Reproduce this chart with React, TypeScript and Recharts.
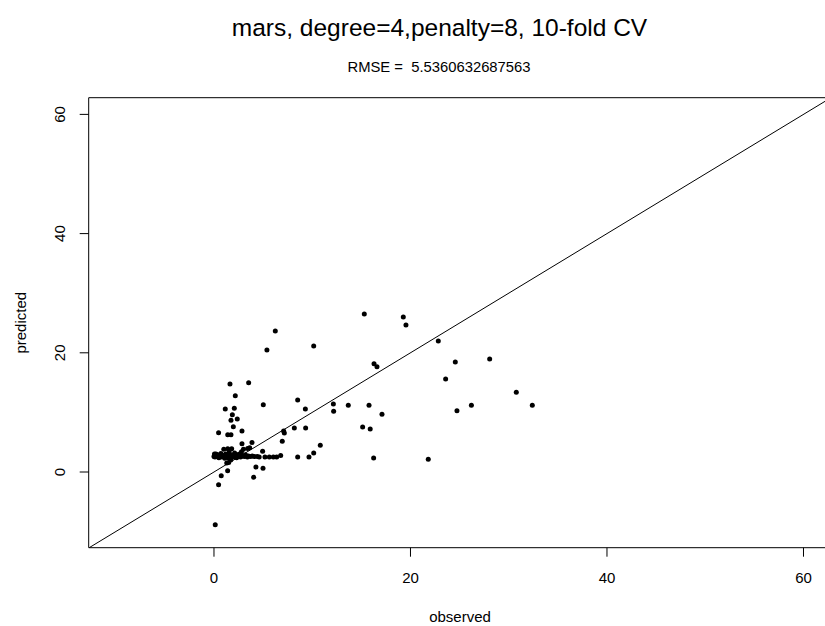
import React from 'react';
import { ScatterChart, Scatter, XAxis, YAxis, ReferenceLine, ReferenceArea } from 'recharts';

const observed = [
  1.63, 3.53, 2.17, 5.02, 8.52, 12.15, 12.18, 9.3, 1.15, 2.07,
  1.87, 1.73, 2.37, 1.97, 2.85, 0.47, 1.4, 1.73, 7.09, 7.16,
  8.18, 9.33, 6.95, 10.82, 10.15, 9.67, 8.52, 6.79, 6.38, 6.04,
  5.63, 5.19, 4.95, 3.87, 2.85, 3.63, 4.27, 4.99, 4.04, 1.39,
  0.74, 0.47, 0.13, 6.24, 5.39, 10.15, 15.3, 19.27, 19.54, 22.83,
  16.29, 16.59, 24.56, 28.06, 23.58, 30.77, 32.4, 26.2, 24.73, 13.67,
  15.78, 17.1, 15.13, 15.9, 16.25, 21.81,
  0.0, 0.05, 0.1, 0.2, 0.3, 0.35, 0.5, 0.6, 0.7, 0.8,
  0.9, 1.0, 1.0, 1.1, 1.2, 1.3, 1.4, 1.45, 1.5, 1.55,
  1.6, 1.7, 1.75, 1.8, 1.9, 2.0, 2.1, 2.2, 2.3, 2.4,
  2.5, 2.6, 2.7, 2.8, 2.9, 3.0, 3.1, 3.2, 3.4, 3.5,
  3.7, 3.9, 4.1, 4.4, 4.6, 1.3, 3.43,
];

const predicted = [
  14.75, 14.97, 12.8, 11.3, 12.1, 11.4, 10.2, 10.55, 10.55, 10.7,
  9.6, 8.7, 8.9, 7.6, 6.86, 6.6, 6.25, 6.25, 6.86, 6.55,
  7.37, 7.37, 5.18, 4.5, 3.2, 2.5, 2.5, 2.78, 2.5, 2.5,
  2.5, 2.5, 3.5, 4.97, 4.73, 4.06, 0.82, 0.65, -0.86, 0.2,
  -0.64, -2.15, -8.86, 23.64, 20.45, 21.12, 26.5, 26.0, 24.65, 21.96,
  18.15, 17.65, 18.44, 18.94, 15.59, 13.4, 11.22, 11.22, 10.27, 11.22,
  11.22, 9.71, 7.53, 7.2, 2.33, 2.16,
  2.6, 3.0, 2.5, 3.0, 2.6, 2.9, 2.4, 2.7, 3.1, 2.5,
  2.8, 3.8, 2.6, 2.3, 3.0, 2.7, 3.9, 2.4, 1.6, 3.3,
  2.9, 2.0, 2.6, 3.9, 2.8, 2.5, 3.2, 2.7, 2.4, 2.9,
  2.6, 3.0, 2.5, 3.4, 2.7, 3.8, 2.6, 2.9, 2.5, 2.7,
  2.6, 2.7, 2.6, 2.6, 2.5, 1.5, 3.96,
];

const xTicks = [0, 20, 40, 60];
const yTicks = [0, 20, 40, 60];
const xDomain: [number, number] = [-12.75, 62.8];
const yDomain: [number, number] = [-12.7, 62.8];
const diagonal = [-12.7, 62.8]; // y = x line endpoints (data units)

const titleText = 'mars, degree=4,penalty=8, 10-fold CV';
const subText = 'RMSE =  5.5360632687563';
const xLabel = 'observed';
const yLabel = 'predicted';

const data = observed.map((x, i) => ({ x, y: predicted[i] }));

const FONT = '"Liberation Sans", Arial, Helvetica, sans-serif';

const YTick = (props: any) => {
  const { x, y, payload } = props;
  return (
    <text
      x={x}
      y={y}
      transform={`rotate(-90, ${x}, ${y})`}
      textAnchor="middle"
      fontSize={15}
      fontFamily={FONT}
      fill="#000"
    >
      {payload.value}
    </text>
  );
};

const Dot = (p: any) => <circle cx={p.cx} cy={p.cy} r={2.5} fill="#000" />;

export default function App() {
  return (
    <div
      style={{
        position: 'fixed',
        left: 0,
        top: 0,
        width: 825,
        height: 626,
        overflow: 'hidden',
        background: '#fff',
      }}
    >
      <ScatterChart
        width={845}
        height={626}
        margin={{ top: 97.7, left: 28.7, right: 14, bottom: 48.3 }}
      >
        <XAxis
          type="number"
          dataKey="x"
          domain={xDomain}
          allowDataOverflow
          ticks={xTicks}
          interval={0}
          height={30}
          tickSize={9}
          tickMargin={16}
          axisLine={false}
          tickLine={{ stroke: '#000', strokeWidth: 1 }}
          tick={{ fontSize: 15, fill: '#000', fontFamily: FONT }}
        />
        <YAxis
          type="number"
          dataKey="y"
          domain={yDomain}
          allowDataOverflow
          ticks={yTicks}
          interval={0}
          width={60}
          tickSize={9}
          tickMargin={15}
          axisLine={false}
          tickLine={{ stroke: '#000', strokeWidth: 1 }}
          tick={<YTick />}
        />
        <ReferenceArea
          x1={xDomain[0]}
          x2={xDomain[1]}
          y1={yDomain[0]}
          y2={yDomain[1]}
          fill="none"
          fillOpacity={0}
          stroke="#000"
          strokeWidth={1}
          ifOverflow="visible"
        />
        <ReferenceLine
          segment={[
            { x: diagonal[0], y: diagonal[0] },
            { x: diagonal[1], y: diagonal[1] },
          ]}
          stroke="#000"
          strokeWidth={1}
          ifOverflow="visible"
        />
        <Scatter data={data} isAnimationActive={false} shape={<Dot />} />
      </ScatterChart>
      <svg
        width={825}
        height={626}
        style={{ position: 'absolute', left: 0, top: 0, pointerEvents: 'none' }}
      >
        <text x={439.5} y={36} textAnchor="middle" fontSize={24.5} fontFamily={FONT} fill="#000">
          {titleText}
        </text>
        <text x={439} y={72} textAnchor="middle" fontSize={14.8} fontFamily={FONT} fill="#000" style={{ whiteSpace: 'pre' }}>
          {subText}
        </text>
        <text x={460} y={622} textAnchor="middle" fontSize={15} fontFamily={FONT} fill="#000">
          {xLabel}
        </text>
        <text
          x={25.7}
          y={322.7}
          transform="rotate(-90, 25.7, 322.7)"
          textAnchor="middle"
          fontSize={15}
          fontFamily={FONT}
          fill="#000"
        >
          {yLabel}
        </text>
      </svg>
    </div>
  );
}
